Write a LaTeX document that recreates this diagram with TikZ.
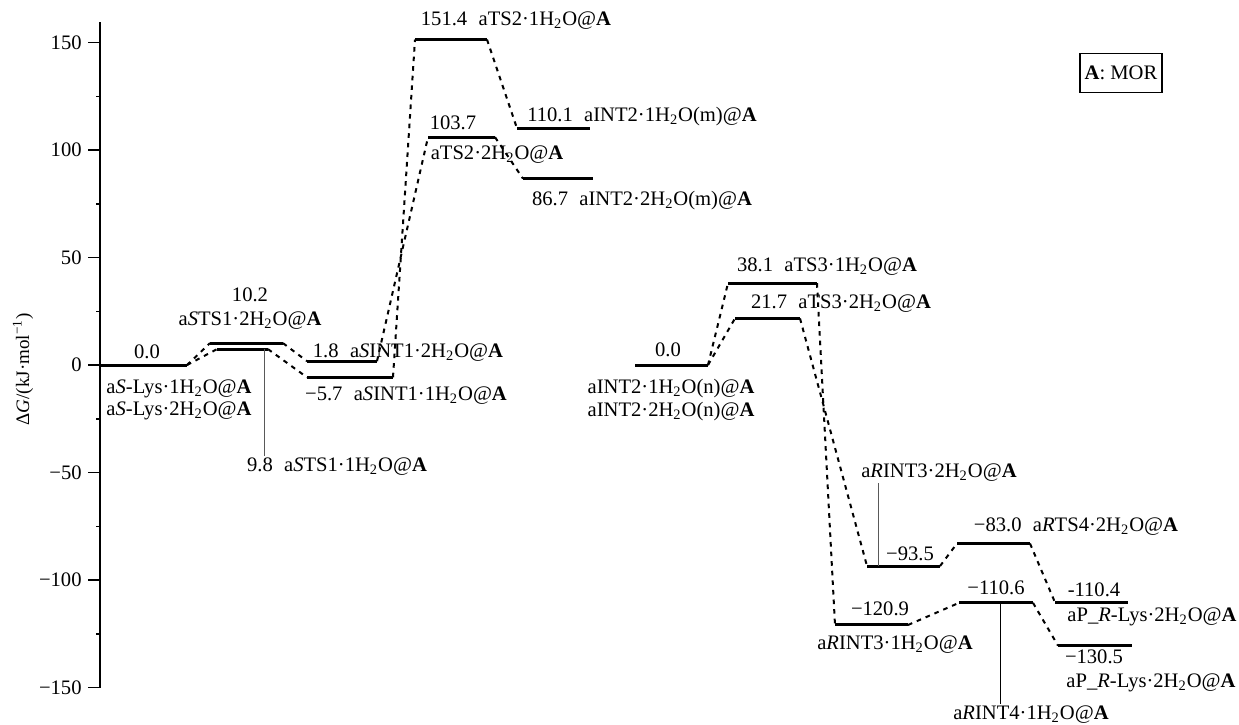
\documentclass[tikz,border=0pt]{standalone}
\usepackage{fontspec}
\setmainfont{Liberation Serif}
\usetikzlibrary{positioning}

\newcommand{\hyd}[1]{·#1H\textsubscript{2}O}
\newcommand{\atA}{@\textbf{A}}
\newcommand{\gap}{\hspace{0.55em}}
\newcommand{\lvl}[4]{%
  \coordinate (#1-l) at (#2,#4);
  \coordinate (#1-r) at (#3,#4);
  \draw[level] (#1-l) -- (#1-r);}

\begin{document}
\begin{tikzpicture}[
			x=0.5pt, y=1.075pt,
			level/.style={line width=1.5pt},
			link/.style={line width=1pt, dash pattern=on 2.3pt off 2.5pt},
			lead/.style={line width=0.45pt, black!65},
			lab/.style={inner sep=0pt, font=\fontsize{10.3}{12.4}\selectfont},
			tick/.style={line width=0.7pt},
			]
			\useasboundingbox (0,-167.4) rectangle (1239,169.8);
			
			% Achse
			\draw[line width=0.9pt] (100,-150) -- (100,159.5);
			\foreach \v in {-150,-100,...,150}{
				\draw[tick] (100,\v) -- (88,\v);
				\node[lab, anchor=east] at (82,\v) {\ifnum\v<0 −\the\numexpr-\v\relax\else\v\fi};
			}
			\foreach \v in {-125,-75,...,125}
				\draw[tick] (100,\v) -- (96,\v);
			\node[lab, rotate=90, font=\fontsize{9.5}{11}\selectfont] (ylab) at (23,-2) {Δ\textit{G}/(kJ·mol\textsuperscript{−1})};
			
			% Niveaus
			\lvl{SLys}{100}{187}{0}
			\lvl{STSb}{210}{283}{10.2}
			\lvl{STSa}{217}{268}{7.4}
			\lvl{SINTb}{307}{377}{1.8}
			\lvl{SINTa}{307}{393}{-5.7}
			\lvl{TSa}{415}{487}{151.4}
			\lvl{TSb}{428}{495}{106}
			\lvl{INTma}{517}{590}{110.1}
			\lvl{INTmb}{523}{593}{86.7}
			\lvl{INTn}{635}{708}{0}
			\lvl{TSIIIa}{728}{817}{38.1}
			\lvl{TSIIIb}{735}{800}{21.7}
			\lvl{RINTb}{867}{940}{-93.5}
			\lvl{RINTa}{835}{908}{-120.9}
			\lvl{RTS}{957}{1030}{-83}
			\lvl{RINTIV}{959}{1033}{-110.6}
			\lvl{PRb}{1055}{1128}{-110.4}
			\lvl{PRa}{1058}{1132}{-130.5}
			
			% Übergänge
			\path[link]
			(SLys-r) edge (STSb-l)
			(SLys-r) edge (STSa-l)
			(STSb-r) edge (SINTb-l)
			(STSa-r) edge (SINTa-l)
			(SINTb-r) edge (TSb-l)
			(SINTa-r) edge (TSa-l)
			(TSa-r) edge (INTma-l)
			(TSb-r) edge (INTmb-l)
			(INTn-r) edge (TSIIIa-l)
			(INTn-r) edge (TSIIIb-l)
			(TSIIIa-r) edge (RINTa-l)
			(TSIIIb-r) edge (RINTb-l)
			(RINTb-r) edge (RTS-l)
			(RINTa-r) edge (RINTIV-l)
			(RTS-r) edge (PRb-l)
			(RINTIV-r) edge (PRa-l)
			;
			
			% Beschriftungen
			\node[lab] (eSLys) at (147,6) {0.0};
			\node[lab] (nSLysa) at (179,-11.2) {a\textit{S}-Lys\hyd{1}\atA};
			\node[lab] (nSLysb) at (179,-21.4) {a\textit{S}-Lys\hyd{2}\atA};
			\node[lab] (eSTSb) at (250,32.6) {10.2};
			\node[lab] (nSTSb) at (250,20.9) {a\textit{S}TS1\hyd{2}\atA};
			\node[lab] (nSTSa) at (337,-47.4) {9.8\gap a\textit{S}TS1\hyd{1}\atA};
			\node[lab] (nSINTb) at (408,5.6) {1.8\gap a\textit{S}INT1\hyd{2}\atA};
			\node[lab] (nSINTa) at (406,-14.4) {−5.7\gap a\textit{S}INT1\hyd{1}\atA};
			\node[lab] (nTSa) at (516,160) {151.4\gap aTS2\hyd{1}\atA};
			\node[lab] (nINTma) at (642,115.8) {110.1\gap aINT2\hyd{1}(m)\atA};
			\node[lab] (eTSb) at (453,112.6) {103.7};
			\node[lab] (nTSb) at (497,97.7) {aTS2\hyd{2}\atA};
			\node[lab] (nINTmb) at (642,76.7) {86.7\gap aINT2\hyd{2}(m)\atA};
			\node[lab] (eINTn) at (668,7) {0.0};
			\node[lab] (nINTna) at (671,-11) {aINT2\hyd{1}(n)\atA};
			\node[lab] (nINTnb) at (671,-21.5) {aINT2\hyd{2}(n)\atA};
			\node[lab] (nTSIIIa) at (827,45.6) {38.1\gap aTS3\hyd{1}\atA};
			\node[lab] (nTSIIIb) at (841,28.4) {21.7\gap aTS3\hyd{2}\atA};
			\node[lab] (nRINTb) at (939,-49.8) {a\textit{R}INT3\hyd{2}\atA};
			\node[lab] (eRINTb) at (910,-87.9) {−93.5};
			\node[lab] (nRTS) at (1076,-75.3) {−83.0\gap a\textit{R}TS4\hyd{2}\atA};
			\node[lab] (eRINTIV) at (996,-103.7) {−110.6};
			\node[lab] (eRINTa) at (880,-113.5) {−120.9};
			\node[lab] (nRINTa) at (895,-129.8) {a\textit{R}INT3\hyd{1}\atA};
			\node[lab] (ePRb) at (1094,-104.7) {-110.4};
			\node[lab] (nPRb) at (1152,-117.2) {aP\_\textit{R}-Lys\hyd{2}\atA};
			\node[lab] (ePRa) at (1094,-135.8) {−130.5};
			\node[lab] (nPRa) at (1151,-147.9) {aP\_\textit{R}-Lys\hyd{2}\atA};
			\node[lab] (nRINTIV) at (1031,-162.8) {a\textit{R}INT4\hyd{1}\atA};
			
			% Hinweislinien
			\coordinate (STSa-m) at (264,7.4);
			\coordinate (RINTb-m) at (878,-93.5);
			\coordinate (RINTIV-m) at (1000,-110.6);
			\draw[lead] (STSa-m) -- ([yshift=1pt]STSa-m |- nSTSa.north);
			\draw[lead] (RINTb-m) -- ([yshift=-1pt]RINTb-m |- nRINTb.south);
			\draw[lead, black] (RINTIV-m) -- ([yshift=1pt]RINTIV-m |- nRINTIV.north);
			
			\node[draw, line width=0.6pt, inner sep=0pt, minimum width=41pt, minimum height=19.5pt, font=\fontsize{10.3}{12.4}\selectfont] (key) at (1121,136) {\textbf{A}: MOR};
			
		\end{tikzpicture}
\end{document}
